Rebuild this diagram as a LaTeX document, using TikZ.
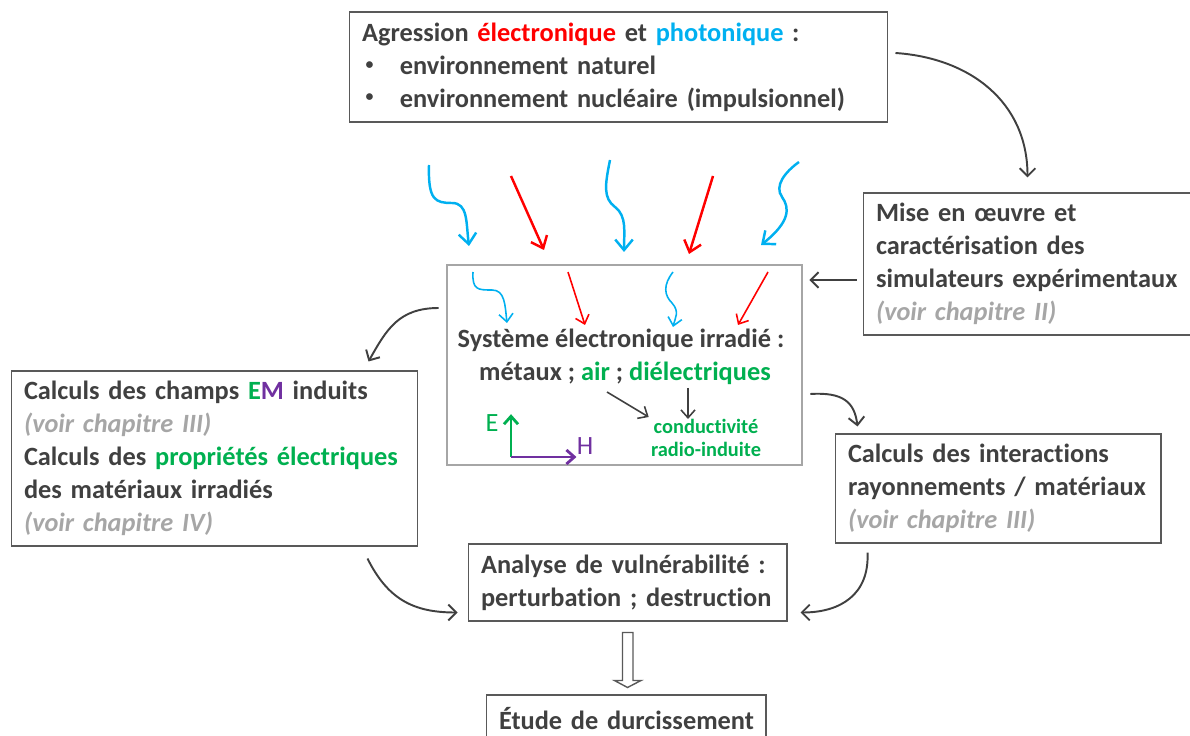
\documentclass[tikz,border=0pt]{standalone}
\usepackage{fontspec}
\setmainfont{Carlito}[Ligatures=NoCommon]
\usetikzlibrary{arrows.meta,positioning,calc}
\definecolor{textgray}{RGB}{64,64,64}
\definecolor{chapgray}{RGB}{166,166,166}
\definecolor{boxgray}{RGB}{89,89,89}
\definecolor{elecred}{RGB}{255,0,0}
\definecolor{photblue}{RGB}{0,176,240}
\definecolor{dielgreen}{RGB}{0,176,80}
\definecolor{empurple}{RGB}{112,48,160}

\newcommand{\voirchap}[1]{{\color{chapgray}\itshape #1}}
\newcommand{\puce}{\makebox[21.5pt][l]{\hspace{2pt}\raisebox{0.4ex}{\scalebox{0.6}{\textbullet}}}}

\tikzset{
  txtbox/.style={draw=boxgray,line width=0.6pt,inner xsep=0.26cm,inner ysep=0pt,
    align=left,text=textgray,font=\fontsize{15}{18.7}\selectfont\bfseries},
  plain/.style={text=textgray,font=\fontsize{15}{18.7}\selectfont\bfseries,inner sep=0pt},
  flow/.style={draw=textgray,line width=1.1pt,-{Straight Barb[length=4.5pt,width=9pt]}},
  ray/.style={line width=1.4pt,-{Straight Barb[length=6pt,width=10pt]}},
  smallray/.style={line width=0.9pt,-{Straight Barb[length=4.5pt,width=8pt]}},
  axis/.style={line width=1.6pt,-{Straight Barb[length=4.5pt,width=8pt]}},
}

\begin{document}
\begin{tikzpicture}[x=0.02cm,y=-0.02cm]
  \useasboundingbox (0,0) rectangle (1190,736);

  % boxes
  \node[txtbox,text width=10.26cm,minimum height=2.2cm] (agr) at (618.5,67)
    {Agression {\color{elecred}électronique} et {\color{photblue}photonique} :\\
     \puce environnement naturel\\
     \puce environnement nucléaire (impulsionnel)};
  \node[txtbox,text width=6.06cm,minimum height=2.84cm] (mise) at (1027.5,264)
    {Mise en œuvre et\\caractérisation des\\simulateurs expérimentaux\\\voirchap{(voir chapitre II)}};
  \node[txtbox,text width=7.62cm,minimum height=3.5cm] (champs) at (214.5,458.5)
    {Calculs des champs {\color{dielgreen}E}{\color{empurple}M} induits\\
     \voirchap{(voir chapitre III)}\\
     Calculs des {\color{dielgreen}propriétés électriques}\\
     des matériaux irradiés\\
     \voirchap{(voir chapitre IV)}};
  \node[txtbox,text width=6.0cm,minimum height=2.18cm] (inter) at (998,488.5)
    {Calculs des interactions\\rayonnements / matériaux\\\voirchap{(voir chapitre III)}};
  \node[txtbox,text width=5.86cm,minimum height=1.54cm] (vuln) at (627.5,582.5)
    {Analyse de vulnérabilité :\\perturbation ; destruction};
  \node[txtbox,text width=5.08cm,minimum height=0.96cm] (durc) at (626,719)
    {\mbox{Étude de durcissement}};

  % irradiated system
  \node[draw=chapgray,line width=1.5pt,minimum width=7.1cm,minimum height=4.0cm] (sys) at (624.5,365) {};
  \node[plain] (systitle) at (621,340) {Système électronique irradié :};
  \node[plain] (sysmat) at (625,373) {métaux ; {\color{dielgreen}air} ; {\color{dielgreen}diélectriques}};
  \node[align=center,text=dielgreen,font=\fontsize{11.6}{13}\selectfont\bfseries,inner sep=0pt] (cond) at (706,438)
    {conductivité\\radio-induite};
  \coordinate (airpt) at (607,392);
  \coordinate (dielpt) at (688,388);
  \draw[smallray,textgray] (airpt) -- ($(cond.north west)+(-2,-2)$);
  \draw[smallray,textgray] (dielpt) -- (dielpt |- cond.north);

  % E and H
  \coordinate (orig) at (511,457);
  \node[text=dielgreen,font=\fontsize{15}{18}\selectfont,inner sep=0pt] (elab) at (492,423) {E};
  \node[text=empurple,font=\fontsize{15}{18}\selectfont,inner sep=0pt] (hlab) at (585,446) {H};
  \draw[axis,dielgreen] (orig) -- (orig |- elab.north);
  \draw[axis,empurple] (orig) -- (hlab.west |- orig);

  % incoming rays
  \draw[ray,photblue] (429,165) .. controls (428,200) and (435,203) .. (452,203) .. controls (468,203) and (466,222) .. (469,246);
  \draw[ray,elecred] (511,176) -- (544,250);
  \draw[ray,photblue] (610,160) .. controls (605,185) and (603,198) .. (615,207) .. controls (627,216) and (624,232) .. (624,252);
  \draw[ray,elecred] (713,176) -- (689,254);
  \draw[ray,photblue] (799,162) .. controls (785,172) and (774,186) .. (782,197) .. controls (790,208) and (790,222) .. (761,245);

  % rays inside the system
  \draw[smallray,photblue] (473,272) .. controls (472,290) and (478,290) .. (492,290) .. controls (505,290) and (505,305) .. (507,323);
  \draw[smallray,elecred] (568,272) -- (585,325);
  \draw[smallray,photblue] (673,272) .. controls (663,285) and (664,295) .. (672,303) .. controls (680,312) and (675,318) .. (673,327);
  \draw[smallray,elecred] (768,272) -- (738,325);

  % links
  \draw[flow] ($(agr.east)+(7,-14)$) .. controls +(75,5) and +(0,-75) .. ($(mise.north)+(0,-15)$);
  \draw[flow] ($(mise.west)+(-6,16)$) -- ($(sys.east)+(6,-85)$);
  \draw[flow] ($(sys.west)+(-7,-57)$) .. controls +(-40,0) and +(18,-32) .. ($(champs.north east)+(-50,-9)$);
  \draw[flow] ($(sys.east)+(7,29)$) .. controls +(32,-2) and +(-3,-25) .. ($(inter.north west)+(23,-7)$);
  \draw[flow] ($(champs.south east)+(-51,12)$) .. controls +(20,40) and +(-45,0) .. ($(vuln.west)+(-10,30)$);
  \draw[flow] ($(inter.south west)+(33,9)$) .. controls +(2,42) and +(40,0) .. ($(vuln.east)+(13,30)$);

  % hollow arrow
  \draw[boxgray,line width=0.8pt,line join=miter]
    ($(vuln.south)+(-5,11)$) -- ++(0,48) -- ++(-8,0) -- ($(durc.north)+(1.5,-7)$)
    -- ($(vuln.south)+(13.5,59)$) -- ++(-8,0) -- ++(0,-48) -- cycle;
\end{tikzpicture}
\end{document}
